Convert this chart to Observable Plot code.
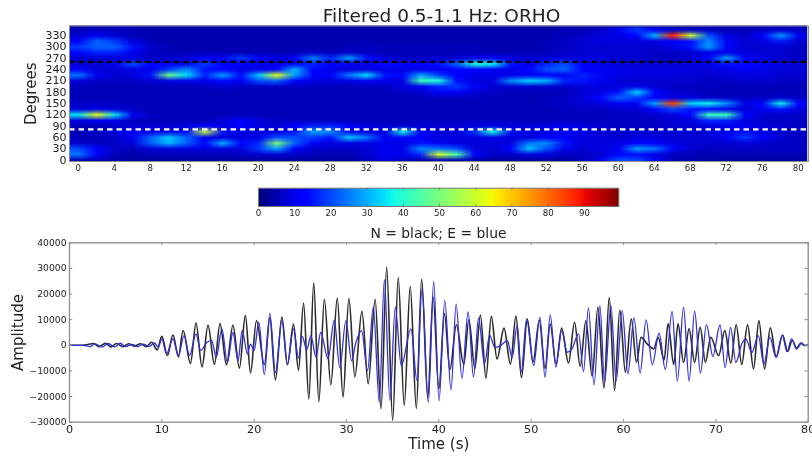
<!DOCTYPE html>
<html><head><meta charset="utf-8">
<script src="https://cdn.jsdelivr.net/npm/d3@7"></script>
<script src="https://cdn.jsdelivr.net/npm/@observablehq/plot@0.6"></script>
<style>
html,body{margin:0;padding:0;background:#fff;width:812px;height:456px;overflow:hidden;font-family:"DejaVu Sans",sans-serif;color:#222}
#page{position:relative;width:812px;height:456px;filter:blur(0.45px)}
.slot{position:absolute;left:0}
.slot svg{display:block;overflow:visible;background:transparent}
.ttl{position:absolute;white-space:nowrap;transform:translateX(-50%)}
</style></head><body>
<div id="page">
<div class="ttl" style="left:441.5px;top:5px;font-size:18.5px">Filtered 0.5-1.1 Hz: ORHO</div>
<div class="ttl" style="left:438.5px;top:225px;font-size:13.9px">N = black; E = blue</div>
<div class="slot" id="heat" style="top:0"></div>
<div class="slot" id="bar" style="top:180px"></div>
<div class="slot" id="wave" style="top:225px"></div>
</div>
<script>
// Heat map rows (top to bottom), one value per 2 s from 0 to 80 s.
const rowDegrees = [360,345,330,315,300,285,270,255,240,225,210,195,180,165,150,135,120,105,90,75,60,45,30,15,0];
const r360=[4,4,4,4,3,3,3,3,3,3,3,3,3,3,3,3,3,3,3,3,3,3,3,3,3,3,3,3,3,3,3,5,4,4,4,4,4,4,4,4,4];
const r345=[5,6,6,5,4,4,4,4,4,4,4,4,4,4,4,4,4,4,4,4,4,4,4,4,4,4,4,5,5,6,10,18,10,7,6,6,5,5,6,6,6];
const r330=[7,10,7,5,4,4,4,4,4,4,4,4,4,4,4,4,4,4,4,4,4,4,4,4,4,4,4,5,6,8,9,12,30,88,58,20,8,6,12,27,10];
const r315=[10,22,18,8,5,4,4,4,4,4,4,4,4,4,4,4,5,4,4,4,4,4,4,4,4,4,5,6,7,8,8,8,9,12,14,26,10,7,8,15,7];
const r300=[18,22,22,14,7,5,4,4,4,4,4,4,4,4,4,5,5,5,5,5,5,5,5,4,4,4,5,6,7,7,7,7,7,9,14,28,12,7,7,7,6];
const r285=[13,16,16,10,6,5,5,5,5,5,5,5,5,6,6,6,6,5,5,5,5,5,5,5,5,5,5,6,7,7,7,7,6,6,7,9,9,8,7,7,6];
const r270=[7,7,7,8,6,7,8,12,10,18,12,8,12,25,16,28,14,8,6,6,7,7,9,12,8,7,8,8,8,8,7,7,6,6,7,12,28,12,8,7,6];
const r255=[7,7,10,20,12,10,9,18,11,11,10,9,10,16,11,10,9,13,13,12,14,22,38,36,14,9,16,20,11,9,8,7,7,7,8,9,14,13,10,8,7];
const r240=[11,8,7,9,9,18,26,14,11,9,9,12,30,11,9,8,8,9,9,9,10,11,11,10,9,11,20,22,12,10,9,8,8,8,8,8,9,12,9,8,7];
const r225=[24,10,7,8,14,48,34,16,28,13,32,62,28,13,10,24,34,14,13,28,18,11,9,9,9,10,11,10,16,10,9,8,8,8,7,7,8,8,8,7,7];
const r210=[8,6,6,6,7,9,9,9,13,10,20,22,11,8,8,9,10,9,9,42,38,14,8,8,26,33,30,16,14,10,8,7,7,7,7,6,6,7,7,6,6];
const r195=[5,5,5,5,5,5,5,6,7,6,6,6,6,6,6,5,6,6,8,10,16,18,11,7,7,7,7,7,8,8,8,9,7,6,6,6,5,5,5,5,5];
const r180=[5,5,5,5,5,5,5,5,5,5,5,5,5,5,5,5,5,5,6,7,10,11,7,6,5,5,5,5,7,9,14,33,13,7,6,5,5,5,5,5,5];
const r165=[5,5,5,5,5,5,5,5,5,5,5,5,5,5,5,5,5,5,5,5,6,6,6,5,5,5,5,6,8,13,22,18,11,9,8,7,6,6,6,7,6];
const r150=[6,6,6,5,5,5,5,5,5,5,5,5,5,5,5,5,5,5,5,5,5,5,5,5,5,5,6,6,7,8,10,10,28,85,33,36,26,9,13,36,11];
const r135=[8,9,8,6,5,5,5,5,5,5,5,5,5,5,5,5,5,5,5,5,5,5,5,5,5,5,5,6,6,6,7,7,11,20,14,13,9,8,9,14,8];
const r120=[35,62,35,10,6,5,5,5,5,5,5,5,5,5,5,5,5,5,5,5,5,5,5,5,5,5,5,5,5,5,6,6,7,8,13,42,42,13,7,7,6];
const r105=[8,10,9,6,5,5,5,5,8,13,8,6,6,6,6,5,5,5,5,6,6,6,6,6,6,5,5,6,6,6,6,6,6,7,8,16,16,8,6,6,6];
const r90=[5,5,6,7,7,7,8,11,8,12,8,7,11,16,16,11,8,7,7,7,7,7,8,9,8,8,9,10,8,7,6,6,6,7,7,8,9,10,8,7,6];
const r75=[5,6,8,11,9,9,13,58,14,9,8,9,14,28,26,13,9,9,36,11,8,8,17,38,14,9,9,13,9,7,7,7,7,7,7,8,10,14,9,7,6];
const r60=[5,5,6,10,22,32,22,10,8,8,9,20,20,18,14,32,24,10,13,10,8,8,8,9,8,8,10,10,8,8,7,8,8,7,7,7,10,18,10,7,6];
const r45=[7,6,6,8,22,30,22,11,30,13,16,50,22,10,8,9,9,9,9,14,10,8,8,8,8,24,26,14,8,8,9,11,11,8,7,7,7,8,7,6,6];
const r30=[20,11,6,5,7,8,8,8,8,8,18,28,11,7,6,6,7,10,9,26,24,20,8,7,11,32,20,9,7,8,10,28,24,13,7,6,6,6,6,6,6];
const r15=[24,12,5,4,5,5,5,5,5,6,7,7,6,5,5,5,7,10,9,16,60,44,12,6,6,8,8,6,6,7,13,13,9,6,5,5,5,5,5,5,5];
const r0=[5,5,4,3,3,3,3,3,3,3,3,3,3,3,3,3,5,9,6,5,6,5,4,3,3,3,3,3,5,10,20,20,10,5,4,3,3,3,3,3,3];
const heatRows=[r360,r345,r330,r315,r300,r285,r270,r255,r240,r225,r210,r195,r180,r165,r150,r135,r120,r105,r90,r75,r60,r45,r30,r15,r0];

const dashedDegrees=[{deg:260,color:"#000"},{deg:81,color:"#fff"}];
const heatXTicks=[0,4,8,12,16,20,24,28,32,36,40,44,48,52,56,60,64,68,72,76,80];
const heatYTicks=[0,30,60,90,120,150,180,210,240,270,300,330];
const barTicks=[0,10,20,30,40,50,60,70,80,90];
const jetStops=[0,.11,.125,.34,.375,.64,.66,.89,.91,1];
const jetColors=["#00007f","#0000ff","#0000ff","#00dbff","#14ffe2","#eeff09","#ffec00","#ff1a00","#e80000","#7f0000"];

// Waveform turning points [time s, amplitude]
const northT=[0,1.4,2,2.6,3.2,3.9,4.5,5.1,5.8,6.4,7,7.7,8.3,8.9,9.5,10,10.6,11.2,11.8,12.3,13.1,13.7,14.35,15,15.7,16.3,17,17.7,18.4,19.05,19.6,20.25,21.1,21.7,22.3,23,23.6,24.26,24.8,25.35,25.92,26.45,27,27.6,28.3,29,29.62,30.26,30.9,31.67,32.35,33.1,33.74,34.35,35,35.6,36.25,36.9,37.56,38.14,38.8,39.38,40,40.6,41.2,41.9,42.7,43.25,43.9,44.5,45.1,45.68,46.3,47.06,47.75,48.35,48.95,49.58,50.2,50.88,51.5,52.06,52.7,53.3,54.04,54.7,55.3,55.92,56.6,57.23,57.88,58.45,59.03,59.6,60.2,60.84,61.4,61.9,62.6,63.27,63.74,64.4,64.82,65.44,65.9,66.5,67.1,67.7,68.3,68.87,69.45,70.3,70.97,71.62,72.2,72.8,73.43,74.08,74.66,75.27,75.9,76.54,77.23,77.77,78.27,78.75,79.2,79.57,80];
const northA=[0,0,300,700,-500,800,-600,700,-500,600,-300,600,-500,1200,-1800,3500,-4000,4000,-4500,5800,-7100,8700,-8400,7800,-7400,8500,-7600,7800,-8900,11700,-10800,9700,-7500,10700,-13500,11000,-7600,8300,-9700,16500,-21000,24400,-22000,18000,-15400,18400,-20200,18200,-12300,13300,-15000,18000,-24700,30400,-29300,26400,-23500,23000,-24600,25900,-20500,18800,-17000,12400,-9500,8000,-7500,10000,-9000,11800,-12800,11300,-5300,6700,-7400,11400,-12600,10200,-6500,9800,-9000,8300,-7250,6700,-6900,9000,-8200,9600,-12000,14900,-16700,18600,-17600,13800,-10500,10300,-6600,3100,400,-1400,3150,-5700,8350,-7500,8350,-6600,6400,-6600,7000,-6600,3150,-4000,5750,-6900,8000,-7500,8000,-9200,9650,-9200,6800,-4650,4000,-2400,1850,-1100,900,0,0];
const eastT=[0,1.5,2.2,2.8,3.5,4.2,4.9,5.5,6.1,6.8,7.4,8,8.6,9.2,9.6,10,10.5,11.2,11.8,12.4,13,13.7,14.2,14.9,15.4,15.9,16.5,17.1,17.7,18.25,18.7,19.27,19.6,20,20.5,21.1,21.7,22.3,23,23.6,24.26,24.8,25.2,25.7,26.14,26.7,27.2,28,28.67,29.27,29.93,30.55,31,31.63,32.28,32.9,33.55,34.1,34.7,35.28,35.93,36.98,37.63,38.17,38.86,39.44,40.02,40.64,41.32,41.87,42.5,43.17,43.75,44.3,44.94,45.5,46.06,46.6,47.43,47.94,48.48,48.92,49.5,50.27,50.94,51.5,52.06,52.67,53.3,53.9,54.4,55.13,55.67,56.2,56.8,57.44,57.95,58.64,59.2,59.86,60.48,61.13,61.8,62.44,63.12,63.85,64.53,65.26,65.83,66.5,67.1,67.7,68.33,68.98,69.67,70.45,71,71.6,72.16,72.8,73.25,73.9,74.6,75.2,75.85,76.5,77.2,77.7,78.2,78.75,79.3,79.6,80];
const eastA=[0,0,-500,600,-700,700,-600,800,-500,400,-500,500,-400,900,-700,2500,-3400,2500,-4000,3800,-4000,4500,-2000,1200,1800,-4700,6400,-6700,5000,-6000,5800,-3400,500,-2000,9000,-11400,12500,-10700,9600,-7500,6400,-5000,3500,-1700,3800,-4700,5000,-5300,9800,-8800,9600,-6000,900,5750,-9900,14900,-22200,25600,-21500,14900,-8000,6400,-13700,22000,-22400,25000,-21700,17500,-17400,16100,-12900,13000,-12400,10700,-7300,4000,-800,-300,1850,-4900,7900,-10500,10200,-7900,11000,-12500,11900,-8500,5750,-2700,-1500,4450,-10200,14600,-15400,15500,-14400,15500,-14000,13500,-11150,10700,-10800,9900,-7600,4700,-9500,13200,-14000,14850,-14000,13300,-10800,8100,-4300,8000,-8700,7000,-6700,500,2500,-2800,3800,-7400,3200,-4700,4000,-2500,2500,-1450,900,-100,0];
const waveXTicks=[0,10,20,30,40,50,60,70,80];
const waveYTicks=[-30000,-20000,-10000,0,10000,20000,30000,40000];

const font={fontFamily:"'DejaVu Sans',sans-serif",background:"transparent",color:"#222"};
const frameGrey="#8c8c8c";
const jet={type:"linear",domain:jetStops.map(f=>f*99.5),range:jetColors,clamp:true,interpolate:"rgb"};
const zip=(t,a)=>t.map((x,i)=>({t:x,a:a[i]}));

document.getElementById("heat").append(Plot.plot({
  width:812,height:180,marginTop:25.5,marginBottom:19,marginLeft:69,marginRight:4,style:font,
  x:{domain:[-0.967,81.14]},y:{domain:[-4,355]},color:jet,
  marks:[
    Plot.raster(heatRows.flat(),{width:41,height:rowDegrees.length,x1:-1,x2:81,y1:367.5,y2:-7.5,clip:true}),
    Plot.ruleY(dashedDegrees,{y:"deg",stroke:"color",strokeWidth:2.2,strokeDasharray:"5.5 4"}),
    Plot.axisX({ticks:heatXTicks,tickFormat:String,tickSize:0,tickPadding:3,fontSize:8.6,label:null}),
    Plot.axisY({ticks:heatYTicks,tickFormat:String,tickSize:0,tickPadding:3,fontSize:11,label:null}),
    Plot.axisY({ticks:[],label:"Degrees",labelAnchor:"center",labelArrow:"none",labelOffset:44,fontSize:15,tickSize:0}),
    Plot.frame({stroke:frameGrey})
  ]
}));

document.getElementById("bar").append(Plot.plot({
  width:812,height:40,marginTop:7.7,marginBottom:14,marginLeft:258,marginRight:193.7,style:font,
  x:{domain:[0,99.5]},y:{domain:[0,1],axis:null},color:jet,
  marks:[
    Plot.raster(d3.range(0,100),{width:100,height:1,x1:0,x2:99.5,y1:0,y2:1,imageRendering:"auto"}),
    Plot.ruleX(barTicks,{x:d=>d,y1:0,y2:.14,stroke:"#333",strokeOpacity:.45}),
    Plot.ruleX(barTicks,{x:d=>d,y1:.86,y2:1,stroke:"#333",strokeOpacity:.45}),
    Plot.axisX({ticks:barTicks,tickFormat:String,tickSize:0,tickPadding:3,fontSize:8.6,label:null}),
    Plot.frame({stroke:"#777"})
  ]
}));

document.getElementById("wave").append(Plot.plot({
  width:812,height:231,marginTop:17.3,marginBottom:34.3,marginLeft:69,marginRight:4.3,style:font,
  x:{domain:[0,80]},y:{domain:[-30000,40000]},
  marks:[
    Plot.line(zip(northT,northA),{x:"t",y:"a",stroke:"#2a2a2a",strokeWidth:1.6,curve:"monotone-x"}),
    Plot.line(zip(eastT,eastA),{x:"t",y:"a",stroke:"#3030dc",strokeWidth:1.3,curve:"monotone-x"}),
    Plot.ruleY(waveYTicks,{y:d=>d,x1:0,x2:.35,stroke:frameGrey}),
    Plot.ruleY(waveYTicks,{y:d=>d,x1:79.65,x2:80,stroke:frameGrey}),
    Plot.ruleX(waveXTicks,{x:d=>d,y1:-30000,y2:-29000,stroke:frameGrey}),
    Plot.ruleX(waveXTicks,{x:d=>d,y1:39000,y2:40000,stroke:frameGrey}),
    Plot.axisX({ticks:waveXTicks,tickFormat:String,tickSize:0,tickPadding:3,fontSize:11.2,label:null}),
    Plot.axisX({ticks:[],label:"Time (s)",labelAnchor:"center",labelArrow:"none",labelOffset:27,fontSize:15,tickSize:0}),
    Plot.axisY({ticks:waveYTicks,tickFormat:d=>String(d).replace("-","\u2212"),tickSize:0,tickPadding:3,fontSize:9.2,label:null}),
    Plot.axisY({ticks:[],label:"Amplitude",labelAnchor:"center",labelArrow:"none",labelOffset:57,fontSize:15,tickSize:0}),
    Plot.frame({stroke:frameGrey,strokeWidth:1.3})
  ]
}));
</script>
</body></html>
